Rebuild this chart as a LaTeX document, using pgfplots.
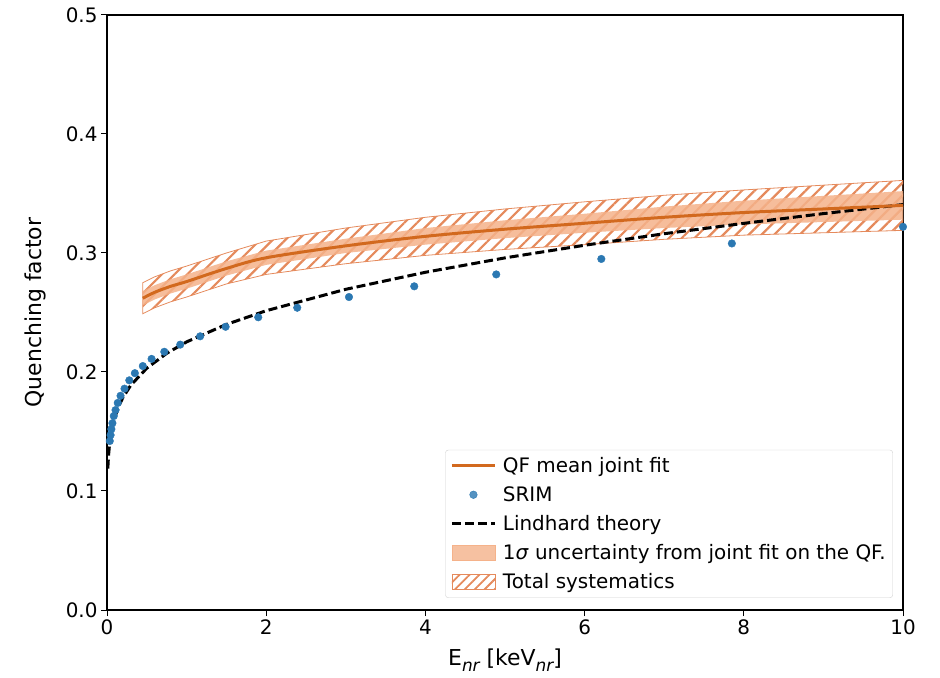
\documentclass[border=0pt]{standalone}
\usepackage{fontspec}
\setmainfont{DejaVu Sans}
\usepackage{pgfplots}
\usepackage{pgfplotstable}
\pgfplotsset{compat=1.18}
\usepgfplotslibrary{fillbetween}
\usetikzlibrary{patterns.meta}

\definecolor{qfline}{HTML}{D2691E}
\definecolor{bandfill}{HTML}{F5B28A}
\definecolor{hatchcol}{HTML}{E58A5C}
\definecolor{srim}{HTML}{2B78B2}

% QF joint fit: mean, 1 sigma band (lo1/hi1), total systematics (lo2/hi2)
\pgfplotstableread{
x    mean   lo1    hi1    lo2    hi2
0.45 0.262  0.256  0.268  0.249  0.275
0.6  0.267  0.261  0.273  0.254  0.280
0.8  0.272  0.266  0.278  0.259  0.285
1.0  0.276  0.270  0.282  0.263  0.289
1.5  0.287  0.281  0.293  0.274  0.300
2    0.296  0.290  0.302  0.282  0.310
3    0.306  0.300  0.312  0.291  0.321
4    0.314  0.307  0.321  0.298  0.330
5    0.320  0.3125 0.3275 0.303  0.337
6    0.325  0.317  0.333  0.307  0.343
7    0.330  0.321  0.339  0.3115 0.3485
8    0.334  0.324  0.344  0.315  0.353
9    0.337  0.326  0.348  0.317  0.357
10   0.340  0.328  0.352  0.319  0.361
}\qfband

% Lindhard prediction
\pgfplotstableread{
E     qf
0.01  0.1189
0.02  0.1305
0.03  0.1379
0.05  0.1477
0.07  0.1546
0.1   0.1623
0.15  0.1716
0.2   0.1786
0.3   0.1890
0.5   0.2032
0.75  0.2157
1     0.2253
1.5   0.2400
2     0.2515
3     0.2695
4     0.2838
5     0.2959
6     0.3065
7     0.3162
8     0.3249
9     0.3331
10    0.3407
}\lindhard

% SRIM simulation
\pgfplotstableread{
E     qf
0.035 0.142
0.045 0.147
0.055 0.152
0.068 0.157
0.085 0.163
0.107 0.168
0.135 0.174
0.17  0.180
0.22  0.186
0.28  0.193
0.35  0.199
0.45  0.205
0.56  0.211
0.72  0.217
0.92  0.223
1.17  0.230
1.49  0.238
1.90  0.246
2.39  0.254
3.04  0.263
3.86  0.272
4.89  0.282
6.21  0.295
7.85  0.308
10    0.322
}\srimdata

\newcommand{\sub}[1]{\raisebox{-0.28em}{\fontsize{17}{19}\selectfont\itshape #1}}

\begin{document}
\begin{tikzpicture}
\begin{axis}[
  at={(0,0)}, anchor=south west,
  scale only axis, width=796bp, height=595bp,
  xmin=0, xmax=10, ymin=0, ymax=0.5,
  xtick={0,2,4,6,8,10},
  ytick={0,0.1,0.2,0.3,0.4,0.5},
  yticklabel style={/pgf/number format/.cd, fixed, fixed zerofill, precision=1},
  /pgf/number format/assume math mode=true,
  tick label style={font=\fontsize{20}{24}\selectfont},
  label style={font=\fontsize{22}{26}\selectfont},
  tick align=outside, tick pos=left,
  major tick length=6bp,
  every tick/.style={black, line width=1bp},
  axis line style={line width=1.1bp},
  xlabel={E\sub{nr} [keV\sub{nr}]},
  ylabel={Quenching factor},
  xlabel style={at={(axis description cs:0.5,-0.084)}, anchor=center},
  ylabel style={at={(axis description cs:-0.0905,0.5)}, anchor=center},
  legend style={at={(0.9874,0.0202)}, anchor=south east,
    draw=black!18, rounded corners=3bp, fill=white, fill opacity=0.8,
    text opacity=1, font=\fontsize{20}{24}\selectfont,
    inner xsep=5bp, inner ysep=5bp, row sep=7.5bp,
    nodes={inner ysep=2.5bp},
    cells={anchor=west}},
]
% legend entries
\addlegendimage{legend image code/.code={\path[draw=none, fill=none] (0bp,0bp) -- (49bp,0bp); \draw[qfline, line width=3bp, sharp corners] (0bp,0bp) -- (43bp,0bp);}}
\addlegendentry{QF mean joint fit}
\addlegendimage{legend image code/.code={\path[draw=none, fill=none] (0bp,0bp) -- (49bp,0bp); \fill[srim] (21.5bp,0bp) circle (3.8bp);}}
\addlegendentry{SRIM}
\addlegendimage{legend image code/.code={\path[draw=none, fill=none] (0bp,0bp) -- (49bp,0bp); \draw[black, line width=3bp, dash pattern=on 9bp off 4bp, sharp corners] (0bp,0bp) -- (43bp,0bp);}}
\addlegendentry{Lindhard theory}
\addlegendimage{legend image code/.code={\path[draw=none, fill=none] (0bp,0bp) -- (49bp,0bp); \fill[bandfill, sharp corners] (0bp,-7.5bp) rectangle (43bp,7.5bp);}}
\addlegendentry{1\textit{σ} uncertainty from joint fit on the QF.}
\addlegendimage{legend image code/.code={\path[draw=none, fill=none] (0bp,0bp) -- (49bp,0bp); \draw[hatchcol, line width=0.8bp, sharp corners, pattern={Lines[angle=45,distance=7bp,line width=1.8bp]}, pattern color=hatchcol] (0bp,-7.5bp) rectangle (43bp,7.5bp);}}
\addlegendentry{Total systematics}

% band boundaries
\addplot[draw=none, name path=hiout, forget plot] table[x=x, y=hi2] {\qfband};
\addplot[draw=none, name path=loout, forget plot] table[x=x, y=lo2] {\qfband};
\addplot[draw=none, name path=hiin, forget plot] table[x=x, y=hi1] {\qfband};
\addplot[draw=none, name path=loin, forget plot] table[x=x, y=lo1] {\qfband};

% Lindhard theory and SRIM
\addplot[black, line width=3bp, dash pattern=on 9bp off 4bp, forget plot] table[x=E, y=qf] {\lindhard};
\addplot[only marks, mark=*, mark size=3.8bp, srim, forget plot] table[x=E, y=qf] {\srimdata};

% total systematics (hatched) and 1 sigma band
\addplot[draw=hatchcol, line width=0.8bp, pattern={Lines[angle=45,distance=9bp,line width=2.2bp]}, pattern color=hatchcol, forget plot] fill between[of=hiout and loout];
\addplot[fill=bandfill, fill opacity=0.85, draw=none, forget plot] fill between[of=hiin and loin];

% mean of the joint fit
\addplot[qfline, line width=3bp, smooth, forget plot] table[x=x, y=mean] {\qfband};
\end{axis}
\path (-107bp,-68bp) rectangle (833bp,610bp);
\end{tikzpicture}
\end{document}
